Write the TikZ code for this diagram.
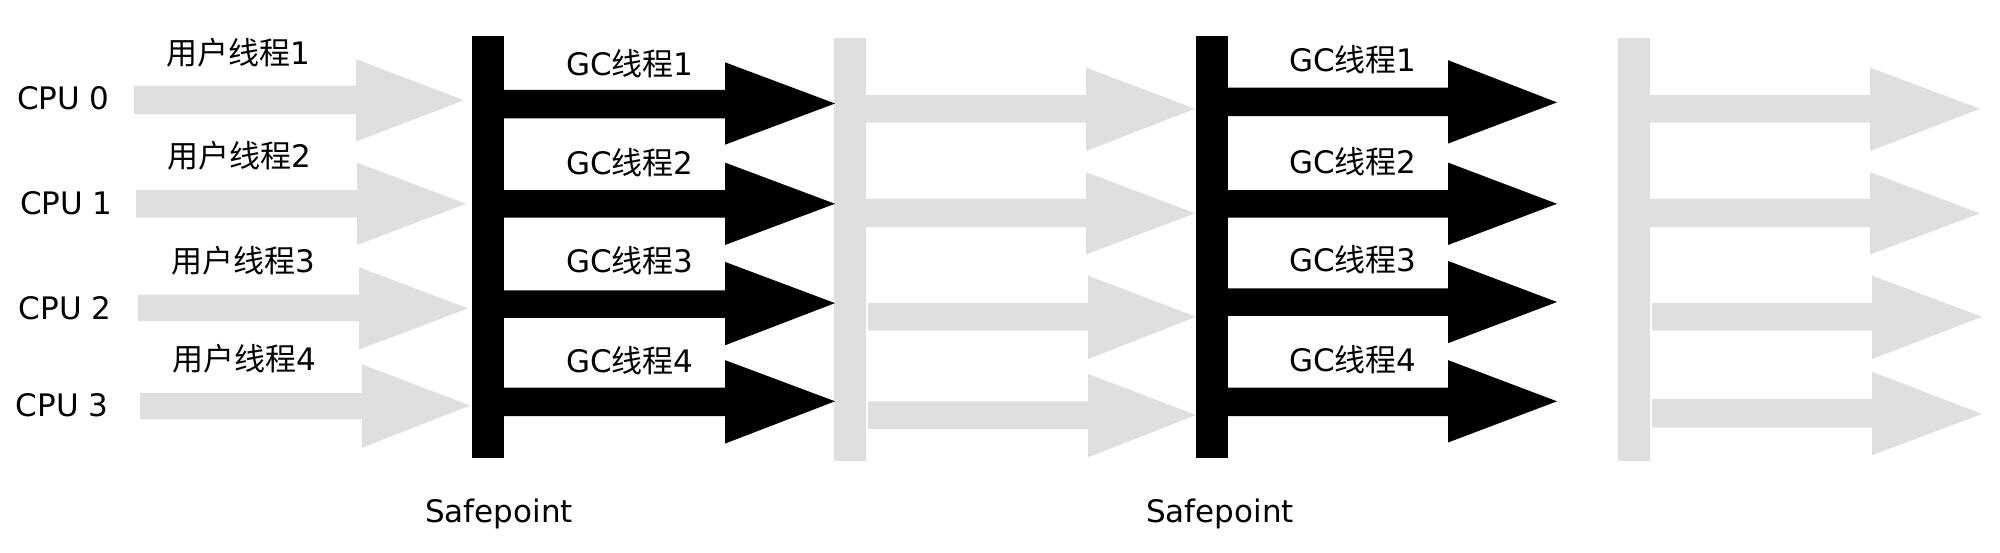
\documentclass[tikz,border=0pt]{standalone}
\usepackage{fontspec}
\setmainfont{DejaVu Sans}
\newfontfamily\cjk{Noto Sans CJK SC}
\definecolor{lg}{RGB}{223,223,223}
\newcommand{\myarr}[9]{\fill[#1] (#2,#5) -- (#3,#5) -- (#3,#7) -- (#4,#9) -- (#3,#8) -- (#3,#6) -- (#2,#6) -- cycle;}
\begin{document}
\begin{tikzpicture}[x=1pt,y=-1pt,
  lbl/.style={inner sep=0pt,outer sep=0pt,anchor=base west,font=\fontsize{31}{36}\selectfont},
  sp/.style={inner sep=0pt,outer sep=0pt,anchor=base,font=\fontsize{31}{36}\selectfont}]
\useasboundingbox[fill=white] (0,0) rectangle (2000,552);
% bars
\fill[black] (472,35.9) rectangle (504,458.3);
\fill[lg] (834,38) rectangle (866,460.5);
\fill[black] (1196,35.9) rectangle (1228,458.3);
\fill[lg] (1618,38) rectangle (1650,460.5);
% user thread arrows
\myarr{lg}{134}{356}{464}{85.5}{114.1}{59.1}{141.5}{100.3}
\myarr{lg}{136}{357}{466}{190.1}{217.6}{162.6}{245.0}{203.8}
\myarr{lg}{138}{359}{468}{294.7}{321.1}{267.2}{349.6}{308.4}
\myarr{lg}{140}{362}{470}{392.9}{419.3}{364.4}{447.8}{405.5}
% GC arrows 1
\myarr{black}{504}{725}{835}{89.8}{118.3}{62.3}{144.7}{103.5}
\myarr{black}{504}{725}{835}{190.1}{217.6}{162.6}{245.0}{203.8}
\myarr{black}{504}{725}{835}{290.4}{317.9}{261.9}{345.3}{303.1}
\myarr{black}{504}{725}{835}{387.6}{416.1}{360.1}{443.6}{401.3}
% gray arrows 2
\myarr{lg}{866}{1086}{1195}{95.0}{122.5}{67.6}{151.0}{108.8}
\myarr{lg}{866}{1086}{1195}{198.5}{227.1}{172.1}{254.5}{213.3}
\myarr{lg}{868}{1088}{1196}{303.1}{330.6}{275.6}{359.1}{316.8}
\myarr{lg}{868}{1088}{1196}{401.3}{428.8}{373.9}{457.3}{415.0}
% GC arrows 2
\myarr{black}{1228}{1448}{1557}{87.7}{116.2}{60.2}{143.6}{102.4}
\myarr{black}{1228}{1448}{1557}{190.1}{217.6}{162.6}{245.0}{203.8}
\myarr{black}{1228}{1448}{1557}{288.3}{315.8}{260.9}{343.2}{302.0}
\myarr{black}{1228}{1448}{1557}{387.6}{416.1}{360.1}{442.5}{401.3}
% gray arrows 3
\myarr{lg}{1650}{1870}{1980}{95.0}{122.5}{67.6}{151.0}{108.8}
\myarr{lg}{1650}{1870}{1980}{198.5}{227.1}{172.1}{254.5}{213.3}
\myarr{lg}{1652}{1872}{1982}{303.1}{330.6}{275.6}{359.1}{316.8}
\myarr{lg}{1652}{1872}{1982}{399.2}{427.7}{371.7}{455.2}{414.0}
% CPU labels
\node[lbl] (c0) at (17,109.3) {CPU 0};
\node[lbl] (c1) at (20,214.9) {CPU 1};
\node[lbl] (c2) at (19,319.5) {CPU 2};
\node[lbl] (c3) at (16,416.6) {CPU 3};
% user labels
\node[lbl] (u1) at (166,64.4) {{\cjk 用户线程}1};
\node[lbl] (u2) at (167,167.9) {{\cjk 用户线程}2};
\node[lbl] (u3) at (171,272.5) {{\cjk 用户线程}3};
\node[lbl] (u4) at (172,370.7) {{\cjk 用户线程}4};
% GC labels 1
\node[lbl] (g1) at (566,75.0) {GC{\cjk 线程}1};
\node[lbl] (g2) at (566,174.3) {GC{\cjk 线程}2};
\node[lbl] (g3) at (566,272.5) {GC{\cjk 线程}3};
\node[lbl] (g4) at (566,372.8) {GC{\cjk 线程}4};
% GC labels 2
\node[lbl] (h1) at (1289,71.8) {GC{\cjk 线程}1};
\node[lbl] (h2) at (1289,173.2) {GC{\cjk 线程}2};
\node[lbl] (h3) at (1289,271.4) {GC{\cjk 线程}3};
\node[lbl] (h4) at (1289,371.7) {GC{\cjk 线程}4};
% safepoints
\node[sp] (s1) at (499,522.8) {Safepoint};
\node[sp] (s2) at (1220,522.8) {Safepoint};
\end{tikzpicture}
\end{document}
